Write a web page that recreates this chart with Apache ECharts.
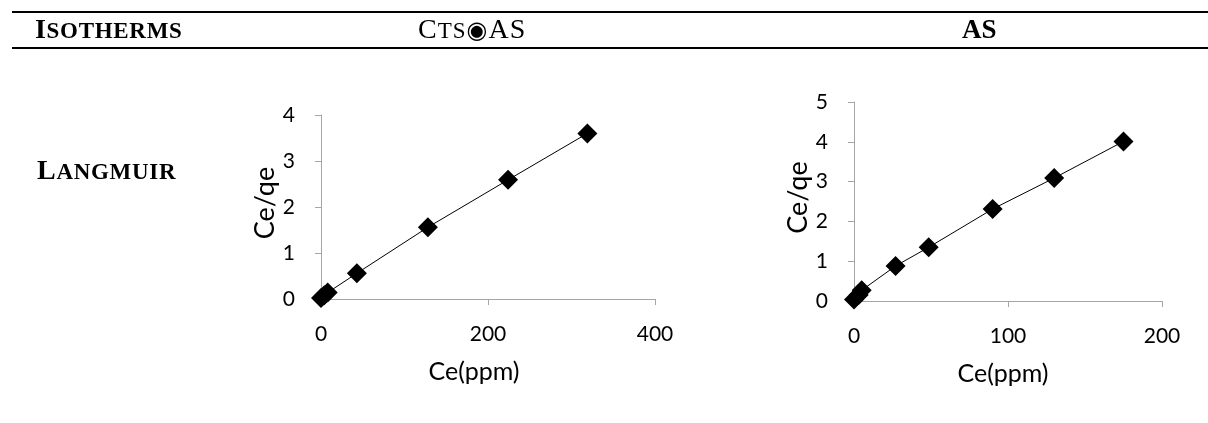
<!DOCTYPE html>
<html>
<head>
<meta charset="utf-8">
<script src="https://cdn.jsdelivr.net/npm/echarts@6/dist/echarts.min.js"></script>
<style>
  html, body { margin: 0; padding: 0; background: #fff; }
  #wrap { position: relative; width: 1208px; height: 423px; overflow: hidden; }
  #chart { position: absolute; left: 0; top: 0; width: 1208px; height: 423px; }
  .rule { position: absolute; left: 12px; right: 0; height: 2px; background: #000; }
  .hd { position: absolute; font-family: "Liberation Serif", "Times New Roman", serif;
        color: #000; white-space: nowrap; line-height: 28px; }
  .big { font-size: 28px; }
  .sm { font-size: 23px; }
</style>
</head>
<body>
<div id="wrap">
  <div id="chart"></div>
  <div class="rule" style="top:11px"></div>
  <div class="rule" style="top:47px"></div>
  <div class="hd" style="left:35px; top:15px; font-weight:bold; letter-spacing:0.7px;"><span class="big">I</span><span class="sm">SOTHERMS</span></div>
  <div class="hd" style="left:418px; top:15px; letter-spacing:1px;"><span class="big">C</span><span class="sm">TS</span><span style="font-family:'DejaVu Sans';font-size:24px;font-weight:bold;">◉</span><span class="big">AS</span></div>
  <div class="hd" style="left:962px; top:15px; font-weight:bold;"><span style="font-size:27px">AS</span></div>
  <div class="hd" style="left:37px; top:156px; font-weight:bold; letter-spacing:0.7px;"><span class="big">L</span><span class="sm">ANGMUIR</span></div>
</div>
<script>
// Left chart: CTS@AS Langmuir
const leftCe  = [0, 4, 8, 43, 128, 224, 319];
const leftCq  = [0.02, 0.08, 0.14, 0.56, 1.56, 2.59, 3.6];
// Right chart: AS Langmuir
const rightCe = [0, 3, 5, 27, 48.5, 90, 130, 175];
const rightCq = [0.04, 0.15, 0.27, 0.88, 1.35, 2.31, 3.09, 4.01];

const xTitle = 'Ce(ppm)';
const yTitle = 'Ce/qe';

const pairs = (xs, ys) => xs.map((x, i) => [x, ys[i]]);

const FONT = 'Lato';
const axisColor = '#a6a6a6';

function xAxis(gridIndex, max, interval, shift) {
  return {
    type: 'value', gridIndex, min: 0, max, interval,
    name: xTitle, nameLocation: 'middle', nameGap: 60,
    nameTextStyle: { fontFamily: FONT, fontSize: 25, color: '#000', padding: [0, shift, 0, 0] },
    axisLine: { show: true, onZero: false, lineStyle: { color: axisColor, width: 1 } },
    axisTick: { show: true, inside: false, length: 6, lineStyle: { color: axisColor } },
    axisLabel: { fontFamily: FONT, fontSize: 21, color: '#000', margin: 25 },
    splitLine: { show: false }
  };
}
function yAxis(gridIndex, max) {
  return {
    type: 'value', gridIndex, min: 0, max, interval: 1,
    name: yTitle, nameLocation: 'middle', nameGap: 42, nameRotate: 90,
    nameTextStyle: { fontFamily: FONT, fontSize: 27, color: '#000', padding: [0, 0, 0, 8] },
    axisLine: { show: true, onZero: false, lineStyle: { color: axisColor, width: 1 } },
    axisTick: { show: true, inside: false, length: 6, lineStyle: { color: axisColor } },
    axisLabel: { fontFamily: FONT, fontSize: 21, color: '#000', margin: 26 },
    splitLine: { show: false }
  };
}
function series(i, xs, ys) {
  return {
    type: 'line', xAxisIndex: i, yAxisIndex: i,
    data: pairs(xs, ys),
    symbol: 'diamond', symbolSize: 20, showAllSymbol: true,
    itemStyle: { color: '#000' },
    lineStyle: { color: '#000', width: 1 },
    animation: false, z: 3
  };
}

const chart = echarts.init(document.getElementById('chart'), null, { renderer: 'canvas' });
chart.setOption({
  animation: false,
  grid: [
    { left: 321, right: 1208 - 655, top: 115, bottom: 423 - 299 },
    { left: 854, right: 1208 - 1162, top: 102, bottom: 423 - 301 }
  ],
  xAxis: [xAxis(0, 400, 200, 28), xAxis(1, 200, 100, 10)],
  yAxis: [yAxis(0, 4), yAxis(1, 5)],
  series: [series(0, leftCe, leftCq), series(1, rightCe, rightCq)]
});
</script>
</body>
</html>
